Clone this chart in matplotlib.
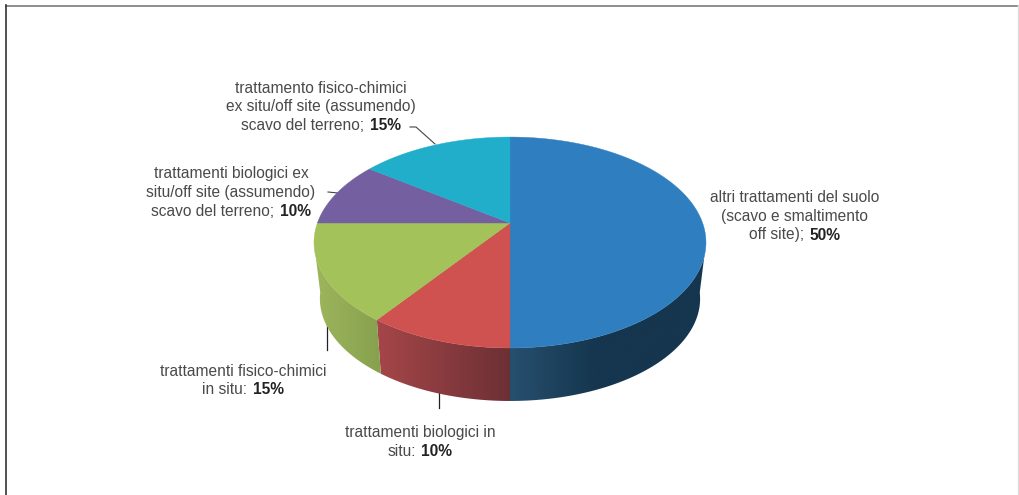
import numpy as np
import matplotlib
matplotlib.use('Agg')
import matplotlib.pyplot as plt
from matplotlib.patches import Polygon

plt.rcParams['font.family'] = ['Liberation Sans', 'DejaVu Sans']

# Share of each treatment, clockwise from 12 o'clock
values = [50, 10, 15, 10, 15]
top_colors = ['#2F7EC0', '#CF5250', '#A3C25A', '#7460A0', '#20AECB']
# Wall colours at the left and right end of each slice
wall_left = ['#27506F', '#A54649', '#9DB55C', '#5A4A80', '#1A8A9F']
wall_right = ['#15364E', '#6C3034', '#86A04E', '#5A4A80', '#1A8A9F']

label_lines = [
    ['altri trattamenti del suolo', '(scavo e smaltimento', 'off site);'],
    ['trattamenti biologici in', 'situ:'],
    ['trattamenti fisico-chimici', 'in situ:'],
    ['trattamenti biologici ex', 'situ/off site (assumendo)', 'scavo del terreno;'],
    ['trattamento fisico-chimici', 'ex situ/off site (assumendo)', 'scavo del terreno;'],
]
label_x = [795, 420, 243, 231, 321]
label_y = [197, 433, 371, 173.5, 88.5]
line_gap = [19, 18, 18, 19, 18.5]

# Pie geometry in pixels
cx, cy = 510, 223
radius = 192.6
tilt = -0.185
squash = 60.6
depth_bottom = 401
rim_bottom = 348
shrink = 0.97


def top_point(frac):
    # Perspective projection of the pie's top circle
    ang = 2 * np.pi * np.asarray(frac)
    u, v = np.sin(ang), -np.cos(ang)
    w = 1 + tilt * v
    return cx + radius * u / w, (cy + squash * v) / w


def bottom_point(frac):
    x, y = top_point(frac)
    return cx + shrink * (x - cx), depth_bottom - shrink * (rim_bottom - y)


def hex_rgb(c):
    return np.array(matplotlib.colors.to_rgb(c))


fig = plt.figure(figsize=(10.19, 4.95), dpi=100)
ax = fig.add_axes([0, 0, 1, 1])

# Outer frame
ax.plot([6, 1019], [5.5, 5.5], color='#858585', lw=1.3)
ax.plot([6.5, 6.5], [5, 495], color='#333333', lw=1.2)
ax.plot([1018, 1018], [5, 495], color='#dddddd', lw=1)

fracs = np.cumsum([0] + values) / sum(values)

# Side walls: a horizontal colour ramp clipped to each slice's outline.
# The top and bottom arcs stop at different angles so the closing edge
# is the tangent between the two rims.
for i in range(len(values)):
    if fracs[i] >= 0.75:
        continue
    xt, yt = top_point(np.linspace(max(fracs[i], 0.30), min(fracs[i + 1], 0.70), 120))
    xb, yb = bottom_point(np.linspace(max(fracs[i], 0.27), min(fracs[i + 1], 0.73), 120))
    outline = np.c_[np.r_[xt, xb[::-1]], np.r_[yt, yb[::-1]]]
    lo, hi = outline[:, 0].min(), outline[:, 0].max()
    xs = np.linspace(lo, hi, 256)
    if i == 0:
        # blue wall goes dark quickly, then stays flat
        t = np.clip((xs - cx) / 85, 0, 1)
    else:
        t = (xs - lo) / (hi - lo)
    ramp = np.outer(1 - t, hex_rgb(wall_left[i])) + np.outer(t, hex_rgb(wall_right[i]))
    im = ax.imshow(ramp[np.newaxis, :, :], extent=[lo, hi, outline[:, 1].max(), outline[:, 1].min()],
                   aspect='auto', zorder=2, interpolation='bilinear')
    im.set_clip_path(Polygon(outline, transform=ax.transData))

# Top face
for i in range(len(values)):
    steps = np.linspace(fracs[i], fracs[i + 1], 150)
    xt, yt = top_point(steps)
    ax.fill(np.r_[cx, xt], np.r_[cy, yt], color=top_colors[i], lw=0.3, zorder=3)

# Leader lines
ax.plot([439, 439], [393, 408], color='#222222', lw=0.9, zorder=1)
ax.plot([327, 327], [320, 350], color='#222222', lw=0.9, zorder=1)
ax.plot([328, 338], [192, 193], color='#444444', lw=0.8, zorder=1)
ax.plot([410, 416, 435], [127, 127, 144], color='#444444', lw=0.8, zorder=1)

ax.set_xlim(0, 1019)
ax.set_ylim(495, 0)
ax.axis('off')

# Labels: plain text with the percentage in bold on the last line
renderer = fig.canvas.get_renderer()
fs = 11.2
text_col = '#4a4a4a'
for i, lines in enumerate(label_lines):
    for k, line in enumerate(lines):
        y = label_y[i] + k * line_gap[i]
        if k < len(lines) - 1:
            ax.text(label_x[i], y, line, ha='center', va='center',
                    fontsize=fs, color=text_col)
        else:
            plain = ax.text(0, y, line, ha='left', va='center',
                            fontsize=fs, color=text_col)
            bold = ax.text(0, y, f'{values[i]}%', ha='left', va='center',
                           fontsize=fs, color='#222222', fontweight='bold')
            w1 = plain.get_window_extent(renderer).width + 5.5
            w2 = bold.get_window_extent(renderer).width
            plain.set_x(label_x[i] - (w1 + w2) / 2)
            bold.set_x(label_x[i] - (w1 + w2) / 2 + w1)

fig.savefig('out.png', dpi=100)
